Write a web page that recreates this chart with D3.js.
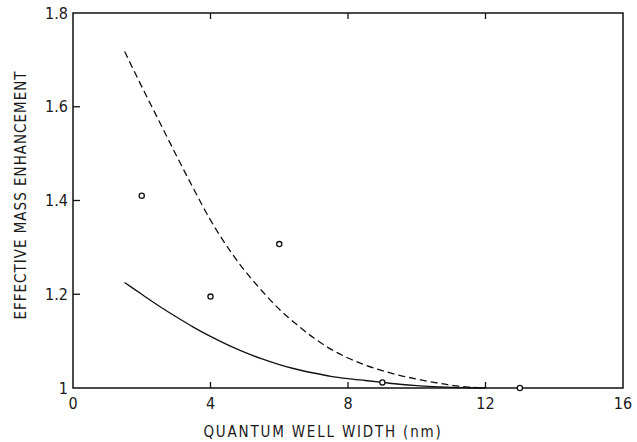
<!DOCTYPE html>
<html>
<head>
<meta charset="utf-8">
<script src="https://cdn.jsdelivr.net/npm/d3@7"></script>
<style>
  body { margin: 0; background: #fff; }
  svg text { font-family: "DejaVu Sans Condensed", "DejaVu Sans", sans-serif; font-stretch: condensed; fill: #1a1a1a; }
</style>
</head>
<body>
<div id="chart"></div>
<script>
// curve sample widths (nm)
const widths = [1.5, 2, 2.5, 3, 3.5, 4, 4.5, 5, 5.5, 6, 6.5, 7, 7.5, 8, 8.5, 9, 9.5, 10, 10.5, 11, 11.5, 12];
// dashed theory curve
const dashedCurve = [1.718, 1.643, 1.570, 1.497, 1.426, 1.358, 1.300, 1.250, 1.207, 1.168, 1.136, 1.107, 1.083, 1.064, 1.049, 1.037, 1.027, 1.019, 1.012, 1.006, 1.002, 1.0];
// solid theory curve
const solidCurve = [1.225, 1.20, 1.175, 1.152, 1.13, 1.11, 1.092, 1.076, 1.062, 1.05, 1.04, 1.032, 1.025, 1.02, 1.016, 1.012, 1.008, 1.005, 1.003, 1.0015, 1.0005, 1.0];
// measured points
const measWidth = [2, 4, 6, 9, 13];
const measMass = [1.41, 1.195, 1.307, 1.012, 1.0];

const xTicks = [0, 4, 8, 12, 16];
const yTicks = [1, 1.2, 1.4, 1.6, 1.8];

const W = 637, H = 442;
const margin = { top: 13, right: 14, bottom: 54, left: 73 };
const iw = W - margin.left - margin.right;
const ih = H - margin.top - margin.bottom;

const svg = d3.select('#chart').append('svg')
  .attr('width', W).attr('height', H);
const g = svg.append('g').attr('transform', `translate(${margin.left},${margin.top})`);

const x = d3.scaleLinear().domain([0, 16]).range([0, iw]);
const y = d3.scaleLinear().domain([1, 1.8]).range([ih, 0]);

// frame
g.append('rect').attr('width', iw).attr('height', ih)
  .attr('fill', 'none').attr('stroke', '#111').attr('stroke-width', 1.5);

// inward ticks
const tickStyle = sel => sel.attr('stroke', '#111').attr('stroke-width', 1.3);
g.selectAll('.xtb').data(xTicks.slice(1, -1)).join('line')
  .attr('x1', d => x(d)).attr('x2', d => x(d)).attr('y1', ih).attr('y2', ih - 6).call(tickStyle);
g.selectAll('.xtt').data(xTicks.slice(1, -1)).join('line')
  .attr('x1', d => x(d)).attr('x2', d => x(d)).attr('y1', 0).attr('y2', 6).call(tickStyle);
g.selectAll('.ytl').data(yTicks.slice(1, -1)).join('line')
  .attr('x1', 0).attr('x2', 7).attr('y1', d => y(d)).attr('y2', d => y(d)).call(tickStyle);

// tick labels
g.selectAll('.xl').data(xTicks).join('text')
  .attr('x', d => x(d)).attr('y', ih + 21)
  .attr('text-anchor', 'middle').attr('font-size', 16)
  .text(d => d);
g.selectAll('.yl').data(yTicks).join('text')
  .attr('x', -5).attr('y', d => y(d)).attr('dy', '0.35em')
  .attr('text-anchor', 'end').attr('font-size', 16)
  .text(d => d === 1 ? '1' : d3.format('.1f')(d));

// axis titles
svg.append('text').attr('x', 323).attr('y', 437)
  .attr('text-anchor', 'middle').attr('font-size', 15).attr('letter-spacing', 1.8)
  .text('QUANTUM WELL WIDTH (nm)');
svg.append('text').attr('transform', 'translate(26,195) rotate(-90)')
  .attr('text-anchor', 'middle').attr('font-size', 15).attr('letter-spacing', 1)
  .text('EFFECTIVE MASS ENHANCEMENT');

// curves
const line = d3.line().curve(d3.curveMonotoneX);
g.append('path')
  .attr('d', line(widths.map((w, i) => [x(w), y(dashedCurve[i])])))
  .attr('fill', 'none').attr('stroke', '#111').attr('stroke-width', 1.3)
  .attr('stroke-dasharray', '7,4');
g.append('path')
  .attr('d', line(widths.map((w, i) => [x(w), y(solidCurve[i])])))
  .attr('fill', 'none').attr('stroke', '#111').attr('stroke-width', 1.3);

// measured points
g.selectAll('.pt').data(measWidth).join('circle')
  .attr('cx', d => x(d)).attr('cy', (d, i) => y(measMass[i]))
  .attr('r', 2.6).attr('fill', '#fff').attr('stroke', '#111').attr('stroke-width', 1.3);
</script>
</body>
</html>
